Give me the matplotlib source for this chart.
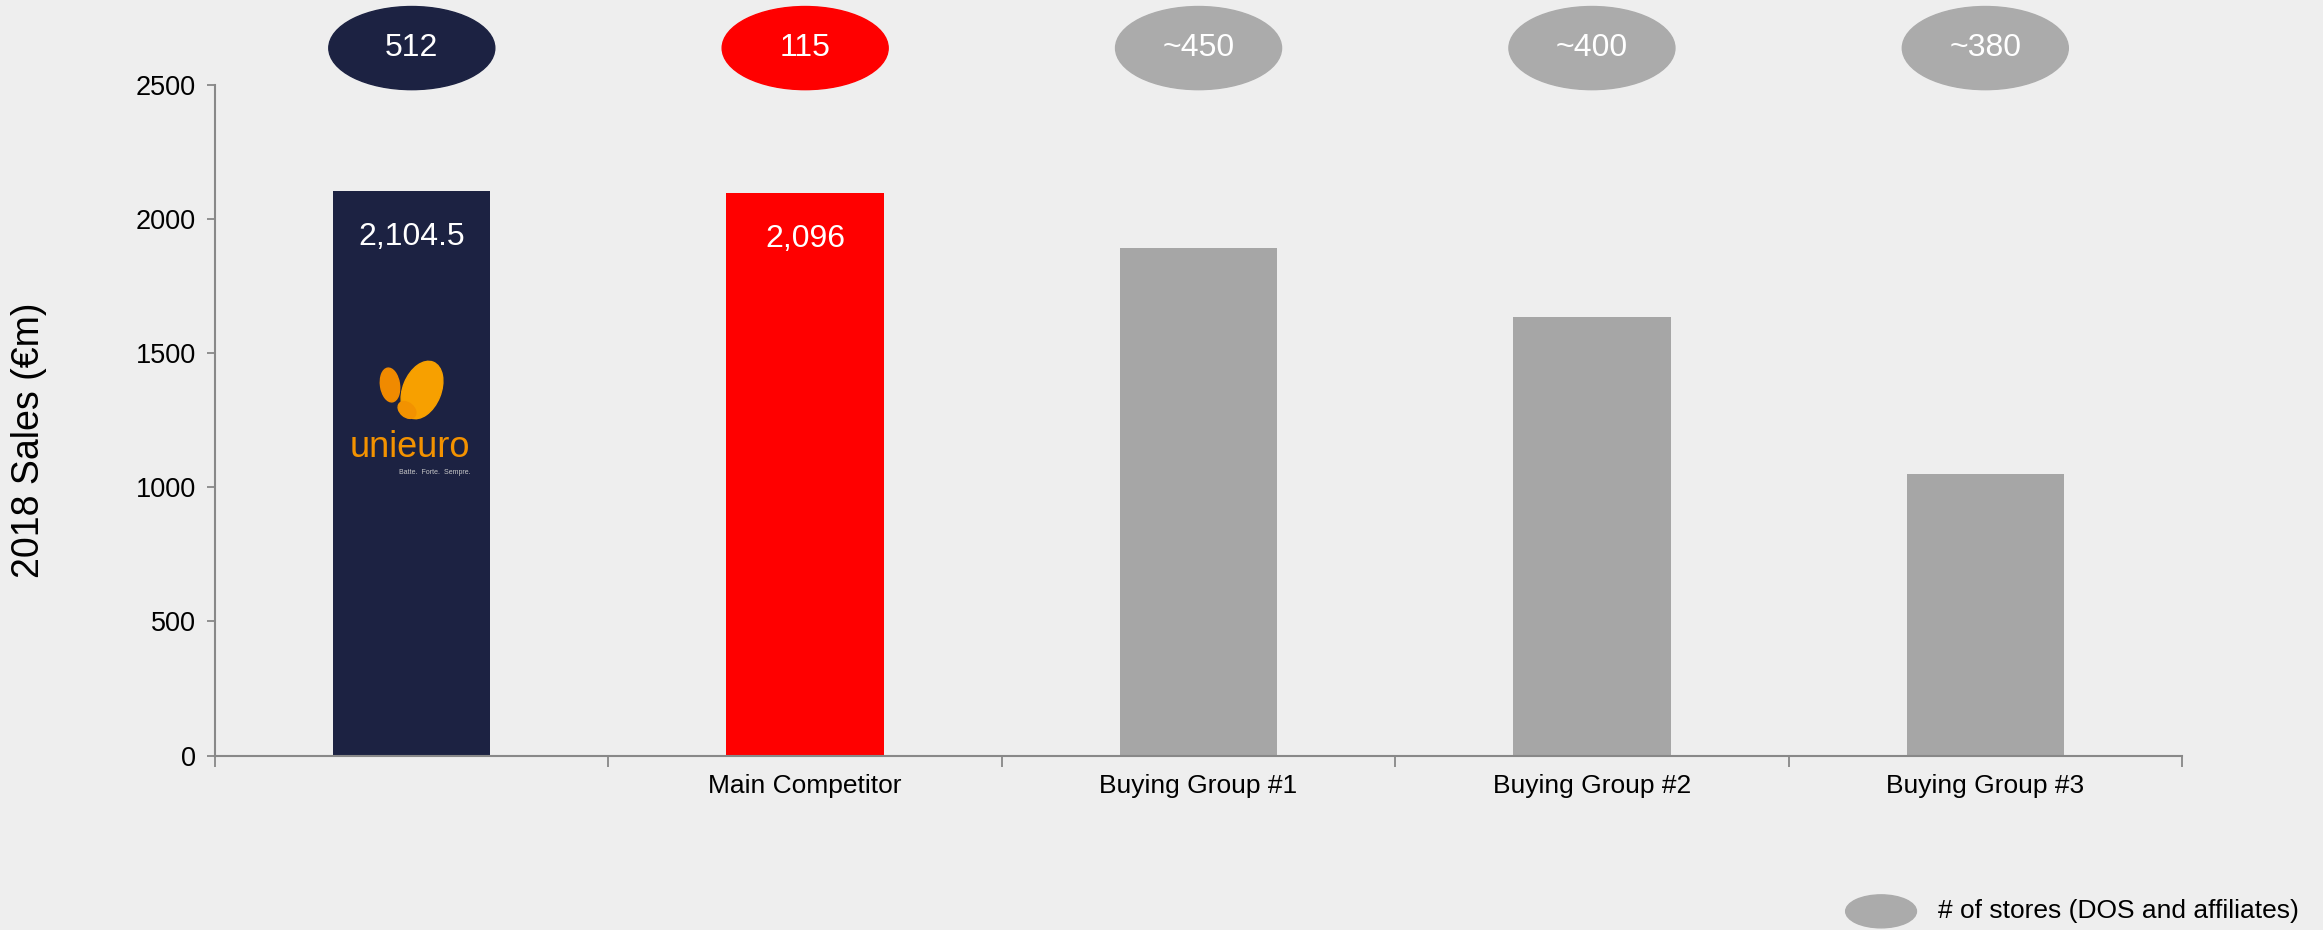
import matplotlib
matplotlib.use("Agg")
import matplotlib.pyplot as plt
from matplotlib.patches import Ellipse

plt.rcParams["font.family"] = ["Liberation Sans", "DejaVu Sans"]

# data
categories = ["", "Main Competitor", "Buying Group #1", "Buying Group #2", "Buying Group #3"]
sales = [2104.5, 2096, 1891, 1637, 1051]
sales_labels = ["2,104.5", "2,096", "", "", ""]
stores = ["512", "115", "~450", "~400", "~380"]
legend_text = "# of stores (DOS and affiliates)"

navy = "#1C2242"
red = "#FF0000"
grey = "#A6A6A6"
bg = "#EEEEEE"
colors = [navy, red, grey, grey, grey]
oval_colors = [navy, red, "#ABABAB", "#ABABAB", "#ABABAB"]

fig = plt.figure(figsize=(23.23, 9.3), dpi=100, facecolor=bg)
ax = fig.add_axes([0.0926, 0.1876, 0.8467, 0.7209], facecolor=bg)

x = list(range(len(categories)))
ax.bar(x, sales, width=0.40, color=colors, zorder=2)

ax.set_xlim(-0.5, len(categories) - 0.5)
ax.set_ylim(0, 2500)
ax.set_yticks([0, 500, 1000, 1500, 2000, 2500])
ax.tick_params(axis="y", labelsize=19.5, length=6, width=1.3, color="#888888", pad=8)

# ticks between categories, labels in the middle
ax.set_xticks([i - 0.5 for i in range(len(categories) + 1)])
ax.set_xticklabels([])
ax.set_xticks(x, minor=True)
ax.set_xticklabels(categories, minor=True, fontsize=19)
ax.tick_params(axis="x", which="major", length=8, width=1.3, color="#888888")
ax.tick_params(axis="x", which="minor", length=0, pad=13)

for s in ["top", "right"]:
    ax.spines[s].set_visible(False)
for s in ["left", "bottom"]:
    ax.spines[s].set_color("#888888")
    ax.spines[s].set_linewidth(1.5)

ax.set_ylabel("2018 Sales (€m)", fontsize=27)
ax.yaxis.set_label_coords(-0.0854, 0.471)

# value labels inside bars
for xi, v, lab in zip(x, sales, sales_labels):
    if lab:
        ax.text(xi, v - 170, lab, ha="center", va="center", color="white", fontsize=23)

# store count ovals above the plot
for xi, s, c in zip(x, stores, oval_colors):
    ax.add_patch(Ellipse((xi, 2638), 0.422, 310, color=c, clip_on=False, zorder=3))
    ax.text(xi, 2638, s, ha="center", va="center", color="white", fontsize=23,
            clip_on=False, zorder=4)

# legend oval
ax.add_patch(Ellipse((3.735, -581), 0.18, 123, color="#ABABAB", clip_on=False))
ax.text(3.88, -581, legend_text, ha="left", va="center", fontsize=19, clip_on=False)

# unieuro logo (drawn)
lg = fig.add_axes([345 / 2323, 1 - 476 / 930, 130 / 2323, 121 / 930])
lg.set_xlim(0, 130)
lg.set_ylim(0, 121)
lg.axis("off")
lg.add_patch(Ellipse((45, 91), 19, 34, angle=8, color="#F08A00"))
lg.add_patch(Ellipse((77, 86), 38, 60, angle=-22, color="#F7A000"))
lg.add_patch(Ellipse((62, 66), 20, 14, angle=-40, color="#F29200"))
lg.text(65, 19, "unieuro", ha="center", va="baseline", color="#F39200", fontsize=26)
lg.text(126, 4, "Batte.  Forte.  Sempre.", ha="right", va="center", color="#C8C8C8", fontsize=5)

fig.savefig("out.png", dpi=100, facecolor=bg)
